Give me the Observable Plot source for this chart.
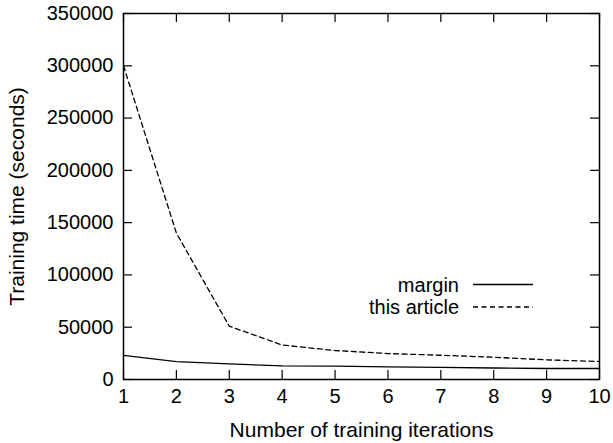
<!DOCTYPE html>
<html>
<head>
<meta charset="utf-8">
<script src="https://cdn.jsdelivr.net/npm/d3@7"></script>
<script src="https://cdn.jsdelivr.net/npm/@observablehq/plot@0.6"></script>
<style>
  html, body { margin: 0; padding: 0; background: #fff; }
  #chart { position: relative; width: 613px; height: 443px; }
  #chart svg text { fill: #000; }
</style>
</head>
<body>
<div id="chart"></div>
<script>
const iterations = [1, 2, 3, 4, 5, 6, 7, 8, 9, 10];
const marginSeries = [23000, 17000, 15000, 13000, 12700, 12000, 11500, 11000, 10500, 10500];
const articleSeries = [300000, 140000, 51000, 33000, 27700, 24800, 23200, 21300, 18800, 17200];
const seriesNames = ["margin", "this article"];
const xTicks = [1, 2, 3, 4, 5, 6, 7, 8, 9, 10];
const yTicks = [0, 50000, 100000, 150000, 200000, 250000, 300000, 350000];
const xTitle = "Number of training iterations";
const yTitle = "Training time (seconds)";

const data = [];
iterations.forEach((it, i) => {
  data.push({it, v: marginSeries[i], s: seriesNames[0]});
  data.push({it, v: articleSeries[i], s: seriesNames[1]});
});

const W = 613, H = 443, mL = 123, mR = 14, mT = 13, mB = 64;
const innerH = H - mT - mB, innerW = W - mL - mR;
const tk = 9;
const font = "'Liberation Sans', Arial, Helvetica, sans-serif";

const chart = Plot.plot({
  width: W, height: H,
  marginLeft: mL, marginRight: mR, marginTop: mT, marginBottom: mB,
  style: {fontFamily: font, fontSize: "20px", color: "#000", background: "#fff"},
  x: {domain: [1, 10]},
  y: {domain: [0, 350000]},
  marks: [
    Plot.tickX(xTicks, {x: d => d, insetTop: innerH - tk, stroke: "#000", strokeWidth: 1.2}),
    Plot.tickX(xTicks, {x: d => d, insetBottom: innerH - tk, stroke: "#000", strokeWidth: 1.2}),
    Plot.tickY(yTicks, {y: d => d, insetRight: innerW - tk, stroke: "#000", strokeWidth: 1.2}),
    Plot.tickY(yTicks, {y: d => d, insetLeft: innerW - tk, stroke: "#000", strokeWidth: 1.2}),
    Plot.line(data.filter(d => d.s === seriesNames[0]), {x: "it", y: "v", stroke: "#000", strokeWidth: 1.3}),
    Plot.line(data.filter(d => d.s === seriesNames[1]), {x: "it", y: "v", stroke: "#000", strokeWidth: 1.3, strokeDasharray: "5,3.5"}),
    Plot.axisX(xTicks, {tickSize: 0, tickPadding: 9, tickFormat: d => String(d), label: null, fontSize: 20}),
    Plot.axisY(yTicks, {tickSize: 0, tickPadding: 10, tickFormat: d => String(d), label: null, fontSize: 20}),
    Plot.text([xTitle], {text: d => d, frameAnchor: "bottom", dy: 51, fontSize: 21, lineAnchor: "middle", textAnchor: "middle", fill: "#000"}),
    Plot.text([yTitle], {text: d => d, frameAnchor: "left", dx: -106, rotate: -90, fontSize: 21, lineAnchor: "middle", textAnchor: "middle", fill: "#000"}),
    Plot.frame({stroke: "#000", strokeWidth: 1.5})
  ]
});
document.getElementById("chart").appendChild(chart);

// legend
const svg = d3.select(chart);
const leg = svg.append("g").attr("font-family", font).attr("font-size", 20);
const rows = [{name: seriesNames[0], dash: null, y: 284.5}, {name: seriesNames[1], dash: "5,3.5", y: 307}];
rows.forEach(r => {
  leg.append("text").attr("x", 459).attr("y", r.y).attr("dy", "0.35em").attr("text-anchor", "end").attr("fill", "#000").text(r.name);
  leg.append("line").attr("x1", 473).attr("x2", 533).attr("y1", r.y).attr("y2", r.y)
    .attr("stroke", "#000").attr("stroke-width", 1.3).attr("stroke-dasharray", r.dash);
});
</script>
</body>
</html>
